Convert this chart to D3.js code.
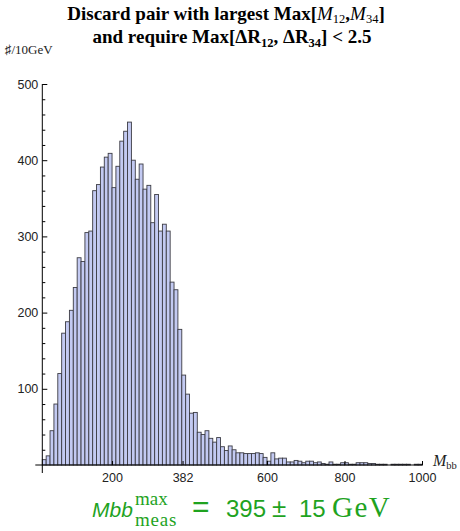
<!DOCTYPE html>
<html><head><meta charset="utf-8">
<script src="https://cdn.jsdelivr.net/npm/d3@7"></script>
<style>body{margin:0;background:#fff}</style>
</head><body>
<svg id="c" width="460" height="531"></svg>
<script>
// ---- data ----
const binStart = 20;     // GeV, lower edge of first bin
const binWidth = 10;     // GeV
const counts = [
  7,12,45,80,120,173,188,203,233,272,
  267,305,307,360,368,391,404,409,364,392,
  425,438,450,400,375,395,362,367,318,355,
  307,316,307,240,230,178,118,93,68,69,
  43,40,45,35,30,36,24,19,25,20,
  16,16,15,15,15,16,15,10,5,16,
  8,9,9,4,4,6,5,3,5,5,
  3,4,2,1,4,1,1,3,3,1,
  1,3,3,3,2,2,1,1,1,0,
  1,1,1,1,1,0,1,1
];
const xTickValues = [200, 382, 600, 800, 1000];
const yTickValues = [100, 200, 300, 400, 500];
const yMinorTickValues = [20,40,60,80,120,140,160,180,220,240,260,280,320,340,360,380,420,440,460,480];

// ---- drawing ----
const svg = d3.select('#c');
const x = d3.scaleLinear().domain([20, 1000]).range([42.3, 422]);
const y = d3.scaleLinear().domain([0, 500]).range([465, 84]);

const bins = counts.map((v, i) => ({x0: binStart + i * binWidth, x1: binStart + (i + 1) * binWidth, v}));

svg.append('g').selectAll('rect').data(bins.filter(d => d.v > 0)).join('rect')
  .attr('x', d => x(d.x0))
  .attr('width', d => x(d.x1) - x(d.x0))
  .attr('y', d => y(d.v))
  .attr('height', d => y(0) - y(d.v))
  .attr('fill', '#c3caf2')
  .attr('stroke', '#3c3c44')
  .attr('stroke-width', 0.9);

// y axis
const yAxis = svg.append('g').attr('transform', `translate(${x(20)},0)`)
  .call(d3.axisLeft(y).tickValues(yTickValues).tickSize(-5).tickPadding(4).tickFormat(d3.format('d')));
yAxis.select('.domain').remove();
yAxis.selectAll('text').attr('font-family', 'Liberation Sans, Arial, sans-serif').attr('font-size', 12.5).attr('fill', '#222');
yAxis.selectAll('line').attr('stroke', '#000');
const yMinor = svg.append('g').attr('transform', `translate(${x(20)},0)`)
  .call(d3.axisLeft(y).tickValues(yMinorTickValues).tickSize(-3).tickFormat(''));
yMinor.select('.domain').remove();
yMinor.selectAll('line').attr('stroke', '#000');
svg.append('line').attr('x1', x(20)).attr('x2', x(20)).attr('y1', y(500)).attr('y2', y(0) + 8)
  .attr('stroke', '#000').attr('stroke-width', 1);

// x axis
const xAxis = svg.append('g').attr('transform', `translate(0,${y(0)})`)
  .call(d3.axisBottom(x).tickValues(xTickValues).tickSize(-4).tickPadding(8).tickFormat(d3.format('d')));
xAxis.select('.domain').remove();
xAxis.selectAll('text').attr('font-family', 'Liberation Sans, Arial, sans-serif').attr('font-size', 12.5).attr('fill', '#222');
xAxis.selectAll('line').attr('stroke', '#000');
svg.append('line').attr('x1', x(20) - 7).attr('x2', x(1002)).attr('y1', y(0)).attr('y2', y(0))
  .attr('stroke', '#000').attr('stroke-width', 1);

// axis labels
const serif = 'Liberation Serif, Times New Roman, serif';
svg.append('text').attr('x', 5).attr('y', 54)
  .attr('font-family', 'Liberation Serif, DejaVu Serif, serif').attr('font-size', 13).attr('fill', '#222')
  .text('♯/10GeV');
const xl = svg.append('text').attr('x', 433).attr('y', 466)
  .attr('font-family', serif).attr('font-size', 16).attr('fill', '#222');
xl.append('tspan').attr('font-style', 'italic').text('M');
xl.append('tspan').attr('font-size', 10.5).attr('dy', 3).text('bb');

// title
const t1 = svg.append('text').attr('x', 226).attr('y', 20).attr('text-anchor', 'middle')
  .attr('font-family', serif).attr('font-size', 19).attr('font-weight', 'bold').attr('fill', '#000');
t1.append('tspan').text('Discard pair with largest Max[');
t1.append('tspan').attr('font-style', 'italic').attr('font-weight', 'normal').text('M');
t1.append('tspan').attr('font-size', 12.5).attr('font-weight', 'normal').attr('dy', 3).text('12');
t1.append('tspan').attr('dy', -3).text(',');
t1.append('tspan').attr('font-style', 'italic').attr('font-weight', 'normal').text('M');
t1.append('tspan').attr('font-size', 12.5).attr('font-weight', 'normal').attr('dy', 3).text('34');
t1.append('tspan').attr('dy', -3).text(']');

const t2 = svg.append('text').attr('x', 232).attr('y', 43).attr('text-anchor', 'middle')
  .attr('font-family', serif).attr('font-size', 19).attr('font-weight', 'bold').attr('fill', '#000');
t2.append('tspan').text('and require Max[ΔR');
t2.append('tspan').attr('font-size', 12.5).attr('dy', 3.5).text('12');
t2.append('tspan').attr('dy', -3.5).text(', ΔR');
t2.append('tspan').attr('font-size', 12.5).attr('dy', 3.5).text('34');
t2.append('tspan').attr('dy', -3.5).text('] < 2.5');

// green result line
const green = '#1fa31f';
const sans = 'Liberation Sans, Arial, sans-serif';
const g = svg.append('g').attr('fill', green);
const base = 517;
g.append('text').attr('x', 92).attr('y', base).attr('font-family', sans)
  .attr('font-style', 'italic').attr('font-size', 21).text('Mbb');
g.append('text').attr('x', 135).attr('y', base - 12).attr('font-family', serif).attr('font-size', 19).text('max');
g.append('text').attr('x', 135).attr('y', base + 9).attr('font-family', serif).attr('font-size', 19).attr('letter-spacing', 0.8).text('meas');
g.append('text').attr('x', 192).attr('y', base).attr('font-family', sans).attr('font-size', 30).text('=');
g.append('text').attr('x', 226).attr('y', base).attr('font-family', sans).attr('font-size', 24).text('395');
g.append('text').attr('x', 272).attr('y', base).attr('font-family', sans).attr('font-size', 26).text('±');
g.append('text').attr('x', 299).attr('y', base).attr('font-family', sans).attr('font-size', 24).text('15');
g.append('text').attr('x', 332).attr('y', base).attr('font-family', serif).attr('font-size', 29).attr('letter-spacing', 1.5).text('GeV');
</script>
</body></html>
